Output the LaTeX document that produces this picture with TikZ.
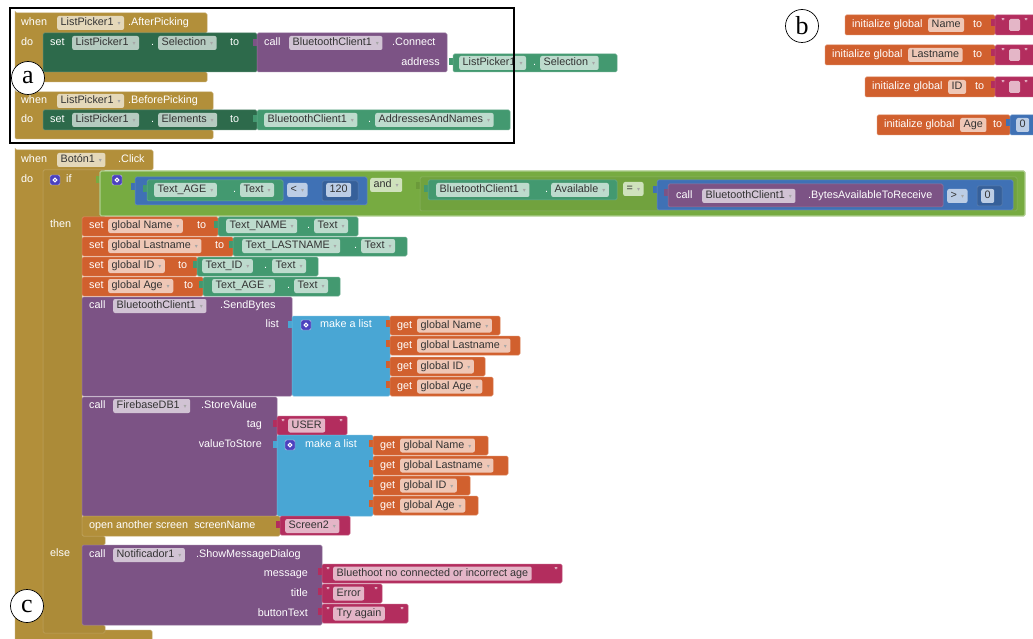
\documentclass[tikz,border=0pt]{standalone}
\usepackage{fontspec}
\setsansfont{Liberation Sans}
\setmainfont{Liberation Serif}
\newfontfamily\djv{DejaVu Sans}
\definecolor{ev}{RGB}{178,143,58}
\definecolor{iff}{RGB}{172,139,56}
\definecolor{setg}{RGB}{45,106,75}
\definecolor{getg}{RGB}{67,153,112}
\definecolor{pur}{RGB}{124,83,133}
\definecolor{org}{RGB}{209,96,46}
\definecolor{mag}{RGB}{179,45,94}
\definecolor{cyn}{RGB}{73,166,212}
\definecolor{blu}{RGB}{63,113,181}
\definecolor{lgc}{RGB}{119,171,65}
\definecolor{gearb}{RGB}{75,65,190}
\newcommand\lf{\sffamily\fontsize{10.8}{12}\selectfont}
\newcommand\dd{\hspace{4pt}{\djv\fontsize{6}{6}\selectfont\textcolor{black!35}{▾}}}
\newcounter{nd}
\newcommand\nn{\stepcounter{nd}}
\tikzset{
 lbl/.style={text=white, font=\lf, inner sep=0pt, text height=7.8pt, text depth=2.2pt, anchor=west},
 fld/.style={fill=#1!35!white, text=black!80, font=\lf, rounded corners=2pt, inner xsep=3.5pt, inner ysep=0pt, text height=7.8pt, text depth=2.2pt, minimum height=14pt, anchor=west},
 blk/.style={fill=#1, draw=#1!80!white, line width=0.5pt, rounded corners=1.5pt},
 circ/.style={circle, draw=black, fill=white, line width=0.7pt, minimum size=33pt, inner sep=0pt, font=\rmfamily\fontsize{26}{26}\selectfont},
 gearbox/.style={fill=gearb, draw=white!70!gearb, line width=0.4pt, rounded corners=1.5pt, minimum size=10pt, inner sep=0pt},
 qt/.style={text=white, font=\sffamily\bfseries\fontsize{7}{7}\selectfont, inner sep=0pt},
 frame/.style={draw=black, line width=1.3pt},
}
% block rectangle
\newcommand\B[5]{\fill[blk=#5] (#1,#2) rectangle (#3,#4);}
% C-shaped event block
\newcommand\Cb[9]{\fill[blk=#9] (#1,#2) -| (#3,#4) -| (#5,#6) -| (#7,#8) -| cycle;}
% white label, left anchored / right anchored
\newcommand\T[3]{\nn\node[lbl] (n\arabic{nd}) at (#1,#2) {#3};}
\newcommand\R[3]{\nn\node[lbl,anchor=east] (n\arabic{nd}) at (#1,#2) {#3};}
% dropdown field / plain field
\newcommand\F[4]{\nn\node[fld=#3] (n\arabic{nd}) at (#1,#2) {#4\dd};}
\newcommand\G[4]{\nn\node[fld=#3] (n\arabic{nd}) at (#1,#2) {#4};}
% value tab
\newcommand\tb[3]{\fill[#3] (#1-4,#2+4) rectangle (#1+1,#2+11);}
% gear icon
\newcommand\gear[2]{\nn\node[gearbox] (n\arabic{nd}) at (#1,#2) {}; \draw[white, line width=1pt] (#1,#2) circle (1.8pt);}
% text string block: x1 y1 x2 y2 text
\newcommand\St[5]{\tb{#1}{#2}{mag}\B{#1}{#2}{#3}{#4}{mag}%
 \nn\node[qt] (n\arabic{nd}) at (#1+6,#2+6) {"};%
 \G{#1+11}{#2/2+#4/2}{mag}{#5}%
 \nn\node[qt] (n\arabic{nd}) at (#3-6,#2+6) {"};}
% get block: x1 y1 x2 text
\newcommand\Get[4]{\tb{#1}{#2}{org}\B{#1}{#2}{#3}{#2+19}{org}\T{#1+7}{#2+9.5}{get}\F{#1+27}{#2+9.5}{org}{#4}}
% empty string block (init)
\newcommand\Es[2]{\tb{#1}{#2}{mag}\B{#1}{#2}{1040}{#2+20}{mag}%
 \nn\node[qt] (n\arabic{nd}) at (#1+8,#2+6) {"};%
 \fill[mag!35!white,rounded corners=1.5pt] (#1+14,#2+4) rectangle (#1+25,#2+16);%
 \nn\node[qt] (n\arabic{nd}) at (#1+31,#2+6) {"};}

\begin{document}
\begin{tikzpicture}[x=1pt,y=-1pt]
\useasboundingbox (0,0) rectangle (1033,639);
\fill[white] (0,0) rectangle (1033,639);

% ================= (a) =================
\Cb{15}{13}{207}{33}{43}{72}{207}{82}{ev}
\T{21}{23}{when}\F{57}{23}{ev}{ListPicker1}\T{128}{23}{.AfterPicking}
\T{21}{43}{do}
\B{43}{33}{257}{72}{setg}
\T{50}{43}{set}\F{72}{43}{setg}{ListPicker1}\T{151}{43}{.}\F{158}{43}{setg}{Selection}\T{230}{43}{to}
\tb{257}{35}{pur}\B{257}{33}{447}{72}{pur}
\T{264}{43}{call}\F{289}{43}{pur}{BluetoothClient1}\T{392}{43}{.Connect}
\R{440}{63}{address}
\tb{453}{54}{getg}\B{453}{54}{617}{72}{getg}
\F{459}{63}{getg}{ListPicker1}\T{533}{63}{.}\F{540}{63}{getg}{Selection}

\Cb{15}{92}{213}{110}{43}{130}{213}{139}{ev}
\T{21}{101}{when}\F{57}{101}{ev}{ListPicker1}\T{128}{101}{.BeforePicking}
\T{21}{120}{do}
\B{43}{110}{257}{130}{setg}
\T{50}{120}{set}\F{72}{120}{setg}{ListPicker1}\T{151}{120}{.}\F{158}{120}{setg}{Elements}\T{230}{120}{to}
\tb{257}{111}{getg}\B{257}{110}{510}{130}{getg}
\F{264}{120}{getg}{BluetoothClient1}\T{368}{120}{.}\F{375}{120}{getg}{AddressesAndNames}

\draw[frame] (10,8) rectangle (514,143);
\nn\node[circ] (n\arabic{nd}) at (28,78) {a};

% ================= (b) =================
\nn\node[circ] (n\arabic{nd}) at (802,26) {b};
\B{845}{15}{995}{35}{org}\T{852}{25}{initialize global}\G{928}{25}{org}{Name}\T{973}{25}{to}
\Es{995}{15}
\B{825}{45}{995}{65}{org}\T{832}{55}{initialize global}\G{908}{55}{org}{Lastname}\T{973}{55}{to}
\Es{995}{45}
\B{865}{77}{995}{97}{org}\T{872}{87}{initialize global}\G{948}{87}{org}{ID}\T{975}{87}{to}
\Es{995}{77}
\B{877}{115}{1010}{135}{org}\T{884}{125}{initialize global}\G{960}{125}{org}{Age}\T{993}{125}{to}
\tb{1010}{115}{blu}\B{1010}{115}{1040}{135}{blu}\G{1016}{125}{blu}{0}

% ================= (c) =================
\Cb{15}{150}{153}{170}{43}{630}{152}{645}{ev}
\T{21}{160}{when}\F{57}{160}{ev}{Botón1}\T{118}{160}{.Click}
\T{21}{180}{do}
\fill[blk=iff] (43,170) -- (105,170) -- (105,217) -- (82,217) -- (82,536) -- (105,536) -- (105,545) -- (82,545) -- (82,625) -- (105,625) -- (105,633) -- (43,633) -- cycle;
\gear{55}{180}\T{66}{180}{if}
\T{50}{225}{then}
\T{50}{554}{else}

% condition
\tb{100}{172}{lgc}
\fill[lgc, draw=lgc!60!white, line width=1.2pt, rounded corners=1.5pt] (100,171) rectangle (1025,216);
\gear{117}{180}
\tb{135}{179}{blu}\B{135}{177}{367}{205}{blu}
\tb{147}{181}{getg}\B{147}{180}{283}{201}{getg}
\F{154}{190}{getg}{Text\_AGE}\T{233}{190}{.}\F{240}{190}{getg}{Text}
\F{287}{190}{blu}{<}
\B{322}{181}{358}{201}{blu!85!black}\G{326}{190}{blu}{120}
\F{370}{185}{lgc}{and}
\tb{420}{178}{lgc!90!black}\B{420}{177}{1017}{211}{lgc!95!black}
\tb{428}{181}{getg}\B{428}{180}{617}{200}{getg}
\F{436}{190}{getg}{BluetoothClient1}\T{545}{190}{.}\F{551}{190}{getg}{Available}
\F{623}{189}{lgc}{=}
\tb{657}{182}{blu}\B{657}{180}{1013}{210}{blu}
\tb{668}{185}{pur}\B{668}{184}{943}{207}{pur}
\T{676}{196}{call}\F{702}{196}{pur}{BluetoothClient1}\T{808}{196}{.BytesAvailableToReceive}
\F{947}{196}{blu}{>}
\B{977}{186}{1002}{206}{blu!85!black}\G{981}{196}{blu}{0}

% then: set globals
\B{82}{217}{218}{236}{org}\T{89}{226}{set}\F{108}{226}{org}{global Name}\T{197}{226}{to}
\tb{218}{217}{getg}\B{218}{217}{358}{236}{getg}\F{226}{226}{getg}{Text\_NAME}\T{307}{226}{.}\F{314}{226}{getg}{Text}
\B{82}{237}{233}{256}{org}\T{89}{246}{set}\F{108}{246}{org}{global Lastname}\T{215}{246}{to}
\tb{233}{237}{getg}\B{233}{237}{407}{256}{getg}\F{242}{246}{getg}{Text\_LASTNAME}\T{354}{246}{.}\F{361}{246}{getg}{Text}
\B{82}{257}{197}{276}{org}\T{89}{266}{set}\F{108}{266}{org}{global ID}\T{178}{266}{to}
\tb{197}{257}{getg}\B{197}{257}{318}{276}{getg}\F{202}{266}{getg}{Text\_ID}\T{264}{266}{.}\F{272}{266}{getg}{Text}
\B{82}{277}{203}{296}{org}\T{89}{286}{set}\F{108}{286}{org}{global Age}\T{184}{286}{to}
\tb{203}{277}{getg}\B{203}{277}{340}{296}{getg}\F{212}{286}{getg}{Text\_AGE}\T{287}{286}{.}\F{294}{286}{getg}{Text}

% SendBytes
\B{82}{297}{292}{396}{pur}
\T{89}{306}{call}\F{113}{306}{pur}{BluetoothClient1}\T{220}{306}{.SendBytes}
\R{279}{325}{list}
\tb{292}{317}{cyn}\B{292}{316}{390}{396}{cyn}
\gear{306}{325}\T{320}{325}{make a list}
\Get{390}{316}{500}{global Name}
\Get{390}{336}{520}{global Lastname}
\Get{390}{357}{485}{global ID}
\Get{390}{377}{493}{global Age}

% StoreValue
\B{82}{397}{277}{516}{pur}
\T{89}{406}{call}\F{113}{406}{pur}{FirebaseDB1}\T{201}{406}{.StoreValue}
\R{262}{425}{tag}
\St{277}{416}{347}{435}{USER}
\R{262}{445}{valueToStore}
\tb{277}{437}{cyn}\B{277}{435}{373}{516}{cyn}
\gear{290}{445}\T{305}{445}{make a list}
\Get{373}{436}{488}{global Name}
\Get{373}{456}{508}{global Lastname}
\Get{373}{476}{470}{global ID}
\Get{373}{496}{478}{global Age}

% open another screen
\B{82}{516}{280}{536}{ev}
\T{89}{526}{open another screen\ \ screenName}
\tb{280}{517}{mag}\B{280}{516}{350}{535}{mag}\F{285}{526}{mag}{Screen2}

% else
\B{82}{545}{322}{625}{pur}
\T{89}{555}{call}\F{113}{555}{pur}{Notificador1}\T{196}{555}{.ShowMessageDialog}
\R{308}{574}{message}
\St{322}{564}{562}{583}{Bluethoot no connected or incorrect age}
\R{308}{594}{title}
\St{322}{584}{382}{603}{Error}
\R{308}{614}{buttonText}
\St{322}{604}{408}{623}{Try again}

\nn\node[circ] (n\arabic{nd}) at (27,606) {c};
\end{tikzpicture}
\end{document}
